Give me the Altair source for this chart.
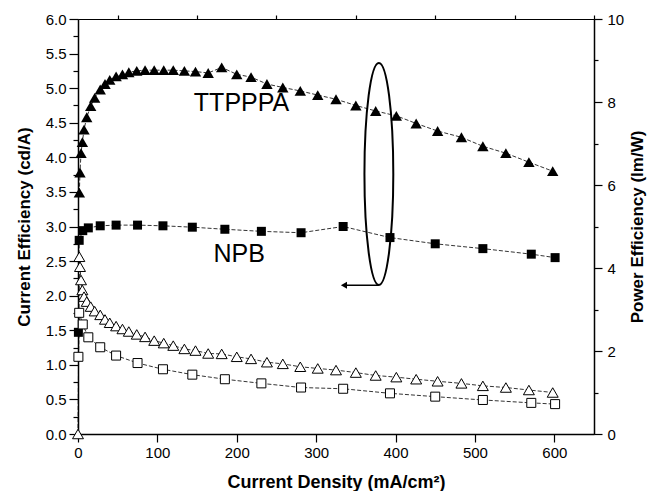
import altair as alt
import pandas as pd

# ---- data ----
# TTPPPA: current density (mA/cm2), current efficiency (cd/A), power efficiency (lm/W)
tt_j = [0, 1.7, 2.5, 3.8, 5.5, 7.6, 11, 16, 21, 28, 34, 40, 48, 56, 64, 74, 84.5, 96, 108, 120,
        134, 148, 164, 181, 200, 218, 238, 258, 280, 302, 325, 350, 375, 401, 426, 453, 483,
        510, 539, 568, 598]
tt_ce_j = [1.7, 2.5, 3.8, 5.5, 7.6, 11, 16, 21, 28, 34, 40, 48, 56, 64, 74, 84.5, 96, 108, 120,
           134, 148, 164, 181, 200, 218, 238, 258, 280, 302, 325, 350, 375, 401, 426, 453, 483,
           510, 539, 568, 598]
tt_ce = [3.49, 3.78, 4.06, 4.22, 4.40, 4.58, 4.74, 4.86, 4.98, 5.06, 5.12, 5.17, 5.20, 5.23, 5.25,
         5.26, 5.26, 5.26, 5.26, 5.25, 5.24, 5.22, 5.30, 5.20, 5.16, 5.06, 5.01, 4.96, 4.90, 4.84,
         4.75, 4.67, 4.60, 4.49, 4.38, 4.29, 4.16, 4.06, 3.93, 3.80]
tt_pe = [0, 4.27, 4.03, 3.71, 3.47, 3.31, 3.19, 3.07, 2.96, 2.87, 2.76, 2.68, 2.60, 2.53, 2.47,
         2.40, 2.34, 2.25, 2.19, 2.13, 2.05, 2.01, 1.94, 1.93, 1.86, 1.81, 1.73, 1.69, 1.62, 1.58,
         1.54, 1.48, 1.41, 1.37, 1.32, 1.27, 1.22, 1.16, 1.12, 1.06, 1.00]

# NPB
npb_j = [0.5, 1.5, 6, 13, 28, 48, 75, 107, 144, 185, 231, 281, 334, 393, 450, 510, 571, 601]
npb_ce = [1.47, 2.80, 2.94, 2.98, 3.01, 3.02, 3.02, 3.01, 2.99, 2.96, 2.93, 2.91, 3.00, 2.84,
          2.75, 2.68, 2.60, 2.55]
npb_pe = [1.86, 2.92, 2.64, 2.33, 2.09, 1.89, 1.71, 1.56, 1.43, 1.32, 1.22, 1.12, 1.09, 0.98,
          0.90, 0.82, 0.75, 0.72]

# annotations
label_text = ["TTPPPA", "NPB"]
label_j = [206, 203]
label_v = [4.78, 2.60]
ellipse_j = [379]
ellipse_v = [3.76]
arrow_j = [335]
arrow_j2 = [379]
arrow_v = [2.15]

# axis tick values
x_major = [0, 100, 200, 300, 400, 500, 600]
x_minor = [50, 150, 250, 350, 450, 550, 650]
left_major = [0, 0.5, 1, 1.5, 2, 2.5, 3, 3.5, 4, 4.5, 5, 5.5, 6]
left_minor = [0.25, 0.75, 1.25, 1.75, 2.25, 2.75, 3.25, 3.75, 4.25, 4.75, 5.25, 5.75]
right_major = [0, 2, 4, 6, 8, 10]
right_minor = [1, 3, 5, 7, 9]

FONT = "Liberation Sans"

df_tt_ce = pd.DataFrame({"j": tt_ce_j, "v": tt_ce})
df_tt_pe = pd.DataFrame({"j": tt_j, "v": tt_pe})
df_npb_ce = pd.DataFrame({"j": npb_j, "v": npb_ce})
df_npb_pe = pd.DataFrame({"j": npb_j, "v": npb_pe})
df_lab = pd.DataFrame({"j": label_j, "v": label_v, "t": label_text})
df_ell = pd.DataFrame({"j": ellipse_j, "v": ellipse_v})
df_arr = pd.DataFrame({"j": arrow_j, "j2": arrow_j2, "v": arrow_v})

xscale = alt.Scale(domain=[0, 650], nice=False, zero=False)
lscale = alt.Scale(domain=[0, 6], nice=False)
rscale = alt.Scale(domain=[0, 10], nice=False)

x_axis = alt.Axis(values=x_major, title="Current Density (mA/cm²)", titleFontSize=18,
                  titlePadding=13, tickSize=8, labelPadding=3)
x_axis_minor = alt.Axis(values=x_minor, title=None, labels=False, domain=False, tickSize=4)
left_axis = alt.Axis(orient="left", values=left_major, format=".1f",
                     title="Current Efficiency (cd/A)", tickSize=9, labelPadding=3,
                     titlePadding=12)
left_axis_minor = alt.Axis(orient="left", values=left_minor, title=None, labels=False,
                           domain=False, tickSize=5)
right_axis = alt.Axis(orient="right", values=right_major, title="Power Efficiency (lm/W)",
                      titleAngle=270, titleBaseline="top", tickSize=8, labelPadding=5,
                      titlePadding=6)
right_axis_minor = alt.Axis(orient="right", values=right_minor, title=None, labels=False,
                            domain=False, tickSize=4)


def xe(ax=None):
    return alt.X("j:Q", scale=xscale, axis=ax)


def yl(ax=None):
    return alt.Y("v:Q", scale=lscale, axis=ax)


def yr(ax=None):
    return alt.Y("v:Q", scale=rscale, axis=ax)


line_kw = dict(color="black", strokeWidth=0.8, strokeDash=[4, 2])

tt_ce_line = alt.Chart(df_tt_ce).mark_line(**line_kw).encode(x=xe(x_axis), y=yl(left_axis))
tt_ce_pts = alt.Chart(df_tt_ce).mark_point(shape="triangle-up", filled=True, color="black",
                                           size=130, opacity=1).encode(
    x=xe(x_axis_minor), y=yl(left_axis_minor))
npb_ce_line = alt.Chart(df_npb_ce).mark_line(**line_kw).encode(x=xe(), y=yl())
npb_ce_pts = alt.Chart(df_npb_ce).mark_point(shape="square", filled=True, color="black",
                                             size=81, opacity=1).encode(x=xe(), y=yl())
labels = alt.Chart(df_lab).mark_text(font=FONT, fontSize=25, color="black", align="center",
                                     baseline="middle").encode(x=xe(), y=yl(), text="t:N")
k = 0.5523
rx = 0.13
ell_path = (f"M0,-1 C{k*rx:.4f},-1 {rx},-{k} {rx},0 C{rx},{k} {k*rx:.4f},1 0,1 "
            f"C-{k*rx:.4f},1 -{rx},{k} -{rx},0 C-{rx},-{k} -{k*rx:.4f},-1 0,-1 Z")
ellipse = alt.Chart(df_ell).mark_point(shape=ell_path, size=49284, filled=False, stroke="black",
                                       strokeWidth=2, opacity=1).encode(x=xe(), y=yl())
arrow_line = alt.Chart(df_arr).mark_rule(color="black", strokeWidth=1.5).encode(
    x=xe(), x2="j2:Q", y=yl())
arrow_head = alt.Chart(df_arr).mark_point(shape="triangle-left", filled=True, color="black",
                                          size=50, opacity=1).encode(x=xe(), y=yl())

left = alt.layer(tt_ce_line, npb_ce_line, tt_ce_pts, npb_ce_pts, labels, ellipse,
                 arrow_line, arrow_head).resolve_axis(x="independent", y="independent")

open_kw = dict(filled=True, fill="white", stroke="black", strokeWidth=1, opacity=1)
tt_pe_line = alt.Chart(df_tt_pe).mark_line(**line_kw).encode(x=xe(), y=yr(right_axis))
tt_pe_pts = alt.Chart(df_tt_pe).mark_point(shape="triangle-up", size=120, **open_kw).encode(
    x=xe(), y=yr(right_axis_minor))
npb_pe_line = alt.Chart(df_npb_pe).mark_line(**line_kw).encode(x=xe(), y=yr())
npb_pe_pts = alt.Chart(df_npb_pe).mark_point(shape="square", size=81, **open_kw).encode(
    x=xe(), y=yr())

right = alt.layer(tt_pe_line, npb_pe_line, npb_pe_pts, tt_pe_pts).resolve_axis(y="independent")

chart = alt.layer(left, right).resolve_scale(y="independent").properties(
    width=516, height=415,
    autosize=alt.AutoSizeParams(type="none"),
    padding={"left": 70, "top": 11, "right": 53, "bottom": 57},
).configure_view(stroke="black", strokeWidth=1).configure_axis(
    domainColor="black", domainWidth=1.5, tickColor="black", tickWidth=1.2,
    labelColor="black", titleColor="black", labelFont=FONT, titleFont=FONT,
    labelFontSize=15, titleFontSize=17, titleFontWeight="bold", grid=False,
    labelFlush=False, labelOverlap=False,
)

chart.save("out.html", embed_options={"renderer": "svg", "actions": False})
